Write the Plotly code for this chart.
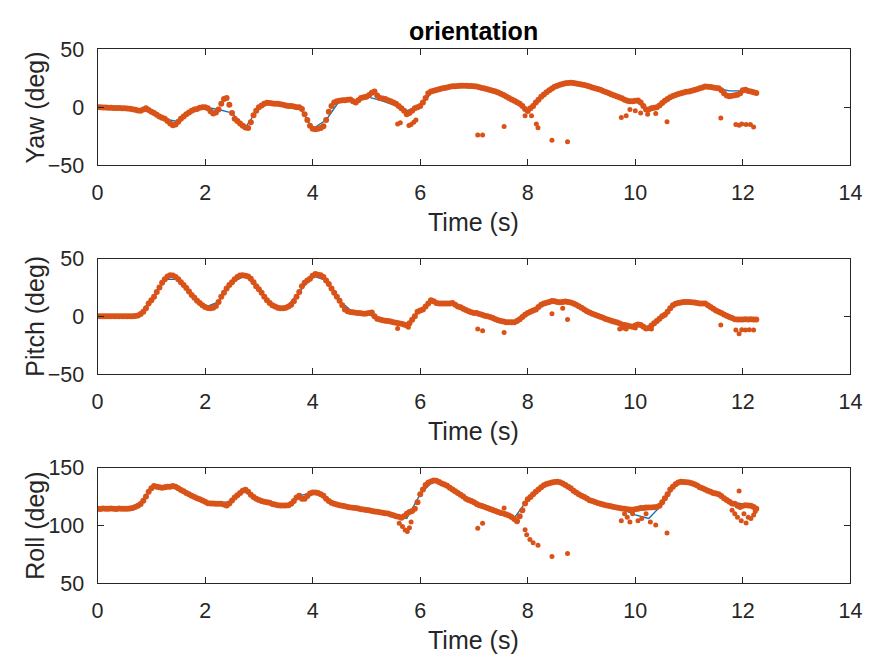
import numpy as np
import plotly.graph_objects as go

# ---------------- data ----------------
DT_MEAS = 0.05   # measurement sample period (s)
DT_EST = 0.25    # estimate sample period (s)

yaw_meas = [
    0, 0, -0.2, -0.3, -0.4, -0.5, -0.6, -0.7, -0.8, -0.9, -1.0, -1.2, -1.4, -1.8, -2.3, -2.8, -3.0, -2.0, -1.0, -2.5,
    -4, -5, -6.5, -8, -9, -10, -12, -14, -15.5, -15, -12.5, -10, -8, -6, -4.5, -3, -2, -1.5, -0.5, 0,
    0, -1, -3.5, -5.5, -4.5, -2, 3, 7, 8, 2, -5, -10, -12, -14, -16, -17.5, -18, -13, -7, -3,
    0, 1.5, 3, 3.8, 3.5, 3.2, 3, 3, 2.5, 2, 1.5, 1, 1, 0.5, 0, 0, -1.5, -6, -11, -16,
    -18.5, -19, -18.5, -18, -16.5, -11, -4, 1, 4, 5, 5.5, 6, 6, 6.5, 6.6, 5, 4, 6, 8, 8.5,
    9, 10.5, 12.5, 13.6, 10, 8, 7.5, 7, 6, 5, 4, 3, 1, -1, -3, -6, -5, -3, -1, 0,
    1, 4, 8, 12, 13.6, 14.2, 14.8, 15.5, 16, 16.5, 17, 17.5, 18, 18, 18.2, 18.4, 18.5, 18.4, 18.3, 18.2,
    18, 17.8, 17.2, 16.6, 16, 15.4, 14.8, 14.2, 13.6, 12.6, 11.6, 10.5, 9.2, 8, 6.7, 5.5, 4.3, 3, 1, -1.5,
    -3.2, -1, 1, 4, 6.5, 9, 11, 12.8, 14.5, 16, 17.5, 18.5, 19.3, 20, 20.5, 20.8, 21, 20.8, 20.4, 20,
    19.5, 19, 18.4, 17.7, 17, 16.3, 15.6, 15, 14, 13, 12.2, 11.2, 10.3, 9.4, 8.5, 7.6, 6.5, 5.5, 5, 5.2,
    5.5, 5.7, 4, 1, -2, -2, -1, -0.5, 0, 1.5, 3.5, 5.5, 7, 8.5, 9.6, 10.5, 11.3, 12, 12.6, 13.2,
    13.6, 14.2, 14.8, 15.5, 16.2, 17, 17.8, 17.6, 17.3, 17, 16.6, 16.2, 14.5, 12, 10, 9.4, 9.8, 10.3, 10.8, 12,
    14.5, 15, 14, 13.5, 12.8, 12.2,
]
yaw_est = [0, -0.5, -1, -2.8, -4, -10, -12.5, -3, 0, -2, -5, -17.5, 0, 3.2, 1.5, 0,
           -18.5, -11, 5.5, 5, 9, 6, 2, -3, 1, 14.2, 17, 18.4, 18, 15.4, 11, 4.5,
           -2, 9, 17.5, 20.8, 19.5, 16.3, 12.2, 7.6, 5, -2, 3.5, 10.5, 13.6, 17, 16.6, 14, 14, 12.2]
yaw_out_t = [5.58, 5.63, 5.79, 5.83, 5.88, 5.92, 7.07, 7.16, 7.56, 7.95, 8.07, 8.16, 8.19, 8.45, 8.74,
             9.74, 9.83, 9.9, 10.0, 10.1, 10.23, 10.38, 10.59, 11.59, 11.87, 11.93, 11.98, 12.06, 12.14, 12.2]
yaw_out_v = [-14.4, -13.5, -15.8, -15, -13, -11, -24, -24, -16.7, -7.4, -7.4, -14.4, -17.8, -28.4, -29.8,
             -8.8, -7.4, -2, -3, -5, -6, -5.5, -12.5, -9.4, -15, -15.5, -14.5, -15, -14.8, -17]

pitch_meas = [
    0, 0, 0, 0, 0, 0, 0, 0, 0, 0, 0, 0, 0, 0, 0.3, 0.8, 2, 4, 7, 11,
    14, 17, 21, 25, 29, 32, 34.5, 35.5, 35.3, 34, 32, 29.5, 27, 24.5, 21.5, 18.5, 16, 13.5, 11.5, 9.5,
    8, 7.2, 7, 7.5, 9, 12.5, 17, 20.5, 24, 27, 29.5, 32, 34, 35.3, 35.5, 35, 34.5, 32.5, 29.5, 26,
    23.5, 20.5, 17, 14, 11.5, 9.5, 8.5, 7.5, 7, 7, 7.5, 8.5, 10, 13, 17, 21, 26, 29, 31, 32.5,
    35, 36.5, 36, 35.5, 34, 31, 28, 24, 20.5, 17, 13.5, 9.5, 6, 4.5, 3.8, 3.5, 3.2, 3, 2.6, 2.2,
    2.5, 3, 3.3, 0, -2, -2.8, -3.3, -3.7, -4, -4.5, -5, -5.5, -6, -6.5, -7, -7.8, -6, -3, 0, 4,
    5, 6, 8.5, 11, 14, 13, 11.5, 11, 11, 11, 11, 11.2, 11.5, 10, 8.5, 7.8, 6.5, 5.5, 4.5, 3.5,
    3, 2.8, 2, 1.3, 0.5, 0, -0.5, -1.5, -2.5, -3.3, -4, -4.5, -5, -5, -5.2, -5, -4, -2.5, -0.5, 1.4,
    3, 4, 5, 6, 8, 10, 11, 11.8, 12.5, 13.3, 13, 12.5, 12.2, 12.5, 12.8, 12.5, 12, 11, 10, 8.8,
    7.5, 6, 4.5, 3.3, 2.3, 1.3, 0.5, -0.3, -1.2, -2.3, -3, -3.7, -4.4, -5.2, -6, -7, -7.5, -8, -8.5, -9,
    -8, -7, -7.5, -9, -10.5, -10, -8, -6, -4, -2, 0, 1.4, 4, 7, 9.5, 10.8, 11.5, 12, 12.3, 12.5,
    12.5, 12.2, 12, 11.5, 11, 11.2, 11, 9.5, 8, 6.5, 5, 4, 3, 1.5, 0.5, -0.5, -1.4, -2.5, -2.8, -2.8,
    -2.8, -2.5, -2.8, -2.6, -2.8, -2.8,
]
pitch_est = [0, 0, 0, 0.8, 14, 32, 32, 18.5, 8, 12.5, 29.5, 35, 23.5, 9.5, 7.5, 21,
             35, 31, 13.5, 3.5, 2.5, -2.8, -5, -7.5, 5, 13, 11, 7.8, 3, 0, -4, -5,
             3, 10, 13, 12.5, 7.5, 1.3, -3, -7, -8, -9.5, 0, 10.8, 12.5, 11.2, 5, -0.5, -2.8, -2.8]
pitch_out_t = [5.58, 5.78, 7.07, 7.16, 7.56, 8.45, 8.65, 8.74, 9.71, 9.77, 9.83, 10.0, 10.3,
               11.59, 11.87, 11.93, 11.98, 12.05, 12.12, 12.2]
pitch_out_v = [-10.5, -9.5, -11, -12.5, -13.9, 2.2, 7, -2.8, -11, -10, -11, -10, -11,
               -7.5, -11.7, -15, -11.5, -11.7, -11.5, -11.7]

roll_meas = [
    114.4, 114.2, 114.5, 114.4, 114.3, 114.6, 114.4, 114.2, 114.5, 114.4, 114.3, 114.4, 114.5, 115, 116, 117, 118.5, 121.4, 125, 129,
    132, 134, 133.5, 133, 132.6, 133, 133.5, 133.5, 134, 133.5, 132, 130.5, 129.5, 128, 127, 125.6, 124.5, 123.5, 122.5, 121.5,
    120.5, 119.2, 119, 119, 118.8, 118.6, 118.6, 118, 117.2, 119, 121.5, 124, 126, 128, 130, 130.7, 129, 126.5, 124.5, 123,
    122, 121, 120.5, 120, 119.5, 118.5, 118, 117.5, 117.2, 117.2, 117.2, 117.5, 118.6, 121, 124, 125.6, 123, 123, 125.5, 127.5,
    128.4, 128.4, 128, 127, 125.6, 123, 121, 119.5, 118.6, 118, 117.5, 117, 116.5, 116, 115.5, 115.3, 115, 114.5, 114, 113.7,
    113.3, 113, 112.5, 112, 111.7, 111.3, 111, 110.6, 110.2, 109.5, 108.8, 108, 107.4, 106.5, 108, 110, 111.6, 112.5, 114.4, 120,
    127, 131, 135, 136.8, 138, 138.8, 138.5, 137.5, 136.3, 135.4, 134.3, 132.5, 131, 129.5, 128, 126.5, 125, 123, 122, 121,
    120, 118.5, 117.5, 116.8, 116, 115, 114.2, 113.2, 112.4, 111.5, 110.8, 110.2, 109.4, 108.5, 107.2, 105.5, 103.5, 108, 113, 119,
    122.5, 124.5, 127, 129, 131, 133, 134.8, 135.8, 136.5, 137, 137.5, 137.7, 137.3, 136.3, 135, 133.5, 132, 130, 128.5, 127,
    125.7, 124.5, 123.2, 121.8, 121, 120.2, 119.4, 118.7, 118, 117.5, 117, 116.5, 116, 115.5, 115, 114.5, 114.4, 114, 113.8, 113.5,
    114, 114.4, 115, 115, 115.4, 115.5, 115.5, 115.6, 115.8, 117, 120, 123.5, 127, 131, 133.5, 135.5, 137, 137.7, 137.5, 137.2,
    137, 136.5, 135.5, 134.5, 133, 132, 131, 130, 129, 128, 127.5, 127, 125.5, 123.5, 122, 120.5, 119, 118.6, 117, 116,
    117, 117.5, 117.2, 117, 116, 114.4,
]
roll_est = [114.4, 114.4, 114.4, 117, 132, 133, 132, 125.6, 120.5, 118.6, 121.5, 130.7, 122, 118.5, 117.2, 125.6,
            128.4, 123, 117.5, 115.3, 113.3, 111.3, 108.8, 106, 127, 138.8, 134.3, 126.5, 120, 115, 110.8, 106.5,
            122.5, 133, 137.7, 133.5, 125.7, 120.2, 117, 114, 109, 106, 118, 135.5, 137, 132, 127.5, 120.5, 118.6, 114.4]
roll_out_t = [5.61, 5.67, 5.72, 5.76, 5.8, 5.83, 7.07, 7.16, 7.56, 7.95, 7.98, 8.04, 8.1, 8.19, 8.45, 8.74,
              9.74, 9.8, 9.85, 9.9, 9.95, 10.05, 10.12, 10.2, 10.28, 10.38, 10.59,
              11.8, 11.85, 11.9, 11.93, 11.97, 12.02, 12.06, 12.1, 12.15, 12.2, 12.23]
roll_out_v = [101.8, 99, 96, 94.8, 98, 103, 97.6, 101.8, 115, 96.2, 92, 87.8, 85, 82.8, 73.2, 75.8,
              104, 110, 107, 103, 110, 104, 106, 110, 103, 100.4, 93.4,
              113, 110, 107, 129.8, 104, 110, 102, 107, 106, 109, 112]

panels = [
    ("Yaw (deg)", yaw_meas, yaw_est, yaw_out_t, yaw_out_v, [-50, 50], [-50, 0, 50]),
    ("Pitch (deg)", pitch_meas, pitch_est, pitch_out_t, pitch_out_v, [-50, 50], [-50, 0, 50]),
    ("Roll (deg)", roll_meas, roll_est, roll_out_t, roll_out_v, [50, 150], [50, 100, 150]),
]

# ---------------- layout ----------------
W, H = 881, 670
BLUE = "#0072BD"
ORANGE = "#D95319"
AX = "#262626"
FONT = "Liberation Sans, Arial, Helvetica, sans-serif"
TICK_SIZE = 21.5
LABEL_SIZE = 25

x_px = (93.5, 862)
y_px = [(39.5, 160), (256.7, 376.7), (473.5, 593.5)]  # top, bottom

fig = go.Figure()
layout = dict(
    width=W, height=H, margin=dict(l=0, r=0, t=0, b=0),
    paper_bgcolor="white", plot_bgcolor="white", showlegend=False,
    font=dict(family=FONT, color=AX, size=TICK_SIZE),
)
annotations = []

for i, (ylab, meas, est, ot, ov, yr, yt) in enumerate(panels):
    n = i + 1
    xa = "x" if n == 1 else f"x{n}"
    ya = "y" if n == 1 else f"y{n}"
    t_meas = np.round(np.arange(len(meas)) * DT_MEAS, 2)
    t_est = np.round(np.arange(len(est)) * DT_EST, 2)
    fig.add_trace(go.Scatter(x=t_est, y=est, mode="lines", line=dict(color=BLUE, width=1.3),
                             xaxis=xa, yaxis=ya, hoverinfo="skip"))
    fig.add_trace(go.Scatter(x=t_meas, y=meas, mode="markers",
                             marker=dict(color=ORANGE, size=6, line=dict(width=0)),
                             xaxis=xa, yaxis=ya, hoverinfo="skip"))
    fig.add_trace(go.Scatter(x=ot, y=ov, mode="markers",
                             marker=dict(color=ORANGE, size=5, line=dict(width=0)),
                             xaxis=xa, yaxis=ya, hoverinfo="skip"))
    top, bot = y_px[i]
    common = dict(showline=True, linecolor=AX, linewidth=1, mirror="ticks", ticks="inside",
                  ticklen=6, tickwidth=1, tickcolor=AX, showgrid=False, zeroline=False,
                  tickfont=dict(family=FONT, size=TICK_SIZE, color=AX))
    layout["xaxis" if n == 1 else f"xaxis{n}"] = dict(
        domain=[x_px[0] / W, x_px[1] / W], range=[0, 14], tickvals=list(range(0, 15, 2)),
        anchor=ya, ticklabelstandoff=8, **common)
    layout["yaxis" if n == 1 else f"yaxis{n}"] = dict(
        domain=[(H - bot) / H, (H - top) / H], range=yr, tickvals=yt,
        anchor=xa, ticklabelstandoff=8, **common)
    annotations.append(dict(text="Time (s)", xref="paper", yref="paper",
                            x=(x_px[0] + x_px[1]) / 2 / W, y=(H - (bot + 59)) / H,
                            xanchor="center", yanchor="middle", showarrow=False,
                            font=dict(family=FONT, size=LABEL_SIZE, color=AX)))
    annotations.append(dict(text=ylab, xref="paper", yref="paper",
                            x=30 / W, y=(H - (top + bot) / 2) / H, textangle=-90,
                            xanchor="center", yanchor="middle", showarrow=False,
                            font=dict(family=FONT, size=LABEL_SIZE, color=AX)))

annotations.append(dict(text="<b>orientation</b>", xref="paper", yref="paper",
                        x=(x_px[0] + x_px[1]) / 2 / W, y=(H - 21) / H,
                        xanchor="center", yanchor="middle", showarrow=False,
                        font=dict(family=FONT, size=LABEL_SIZE, color="black")))
layout["annotations"] = annotations
fig.update_layout(**layout)
fig.write_html("out.html")
